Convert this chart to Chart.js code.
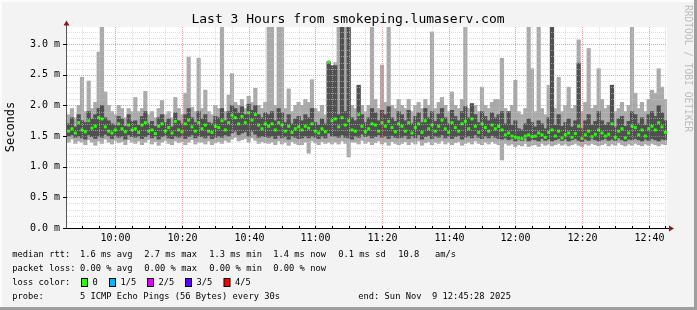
<!DOCTYPE html>
<html>
<head>
<meta charset="utf-8">
<script src="https://cdn.jsdelivr.net/npm/chart.js@4.4.1/dist/chart.umd.min.js"></script>
<style>
  html, body { margin: 0; padding: 0; background: #f3f3f3; }
  canvas { display: block; }
</style>
</head>
<body>
<canvas id="smokeChart" width="697" height="310"></canvas>
<script>
// time axis in minutes since midnight, one bin per minute
const startMin = 585.47;   // 09:45:28
const endMin = 765.47;     // 12:45:28
const binMinutes = 1;

// smoke: outer range (min..max ping), inner range (2nd..4th ping), median - all in ms
const rttMax = [
  1.85,1.95,1.80,2.00,2.46,1.90,2.40,1.95,2.05,2.87,3.30,2.22,2.00,1.90,1.85,2.00,1.95,1.80,1.95,1.90,
  2.13,1.90,1.95,2.23,1.85,1.90,1.80,1.95,2.08,1.85,1.90,1.80,2.13,1.95,1.85,2.20,2.79,1.97,1.90,2.77,
  1.95,2.25,1.90,1.85,2.00,1.95,3.30,1.90,2.17,2.52,2.05,2.00,2.10,1.95,2.15,2.05,2.28,2.00,1.95,2.05,
  3.30,3.30,2.00,3.30,3.30,1.95,2.27,1.90,2.00,2.05,2.00,2.10,2.05,2.42,1.95,1.90,2.00,1.85,2.71,2.65,
  2.70,3.30,3.30,3.30,3.30,2.00,1.95,2.33,2.00,1.90,2.00,3.30,2.10,1.95,2.66,2.05,3.30,2.00,1.95,2.10,
  2.00,1.95,2.10,1.90,2.00,2.05,1.95,2.10,2.00,3.20,1.95,2.05,2.13,2.00,1.90,2.22,2.00,1.95,2.10,3.30,
  1.95,2.03,2.00,1.90,2.30,2.00,1.95,2.05,2.10,2.10,2.77,1.95,1.90,2.00,2.41,1.90,1.85,1.95,3.30,2.60,
  1.90,3.30,1.95,1.85,2.33,3.30,1.95,2.46,1.90,2.00,2.30,1.95,2.00,3.07,1.90,2.05,2.93,1.95,2.00,2.60,
  2.10,1.95,2.00,2.33,1.90,1.95,2.05,1.90,2.00,3.30,2.20,1.95,2.05,1.90,2.10,2.25,2.20,2.60,2.30,2.10
];
const rttMin = [
  1.40,1.45,1.38,1.42,1.40,1.36,1.44,1.40,1.35,1.42,1.38,1.45,1.40,1.37,1.43,1.39,1.41,1.36,1.44,1.40,
  1.38,1.42,1.36,1.40,1.44,1.37,1.41,1.35,1.40,1.43,1.38,1.36,1.42,1.39,1.41,1.36,1.40,1.44,1.37,1.40,
  1.40,1.37,1.42,1.36,1.39,1.41,1.38,1.43,1.40,1.45,1.48,1.42,1.44,1.46,1.40,1.47,1.43,1.38,1.41,1.39,
  1.38,1.40,1.36,1.42,1.37,1.40,1.35,1.41,1.38,1.36,1.36,1.40,1.22,1.42,1.39,1.36,1.41,1.38,1.40,1.37,
  1.40,1.37,1.42,1.38,1.16,1.40,1.40,1.37,1.43,1.38,1.41,1.36,1.39,1.42,1.37,1.40,1.35,1.41,1.38,1.36,
  1.38,1.41,1.36,1.40,1.37,1.42,1.35,1.39,1.41,1.36,1.40,1.38,1.42,1.37,1.40,1.36,1.39,1.41,1.35,1.38,
  1.40,1.37,1.42,1.38,1.36,1.40,1.37,1.41,1.38,1.36,1.11,1.38,1.35,1.37,1.33,1.36,1.34,1.38,1.33,1.35,
  1.36,1.33,1.38,1.35,1.37,1.34,1.36,1.38,1.35,1.37,1.34,1.36,1.38,1.35,1.33,1.37,1.35,1.38,1.36,1.34,
  1.36,1.38,1.34,1.37,1.35,1.39,1.36,1.34,1.37,1.35,1.38,1.36,1.34,1.37,1.35,1.38,1.36,1.34,1.37,1.36
];
const rttLow = [
  1.50,1.52,1.48,1.50,1.47,1.45,1.52,1.49,1.46,1.50,1.48,1.53,1.50,1.46,1.51,1.48,1.50,1.45,1.52,1.49,
  1.48,1.50,1.46,1.49,1.52,1.47,1.50,1.45,1.49,1.51,1.47,1.46,1.50,1.48,1.50,1.46,1.49,1.52,1.47,1.50,
  1.49,1.47,1.51,1.46,1.48,1.50,1.48,1.52,1.50,1.55,1.58,1.52,1.55,1.57,1.50,1.58,1.53,1.48,1.50,1.49,
  1.48,1.50,1.46,1.51,1.47,1.49,1.45,1.50,1.48,1.46,1.47,1.50,1.47,1.50,1.48,1.46,1.50,1.47,1.55,1.50,
  1.50,1.48,1.52,1.48,1.47,1.45,1.50,1.48,1.53,1.49,1.51,1.47,1.49,1.52,1.48,1.50,1.46,1.51,1.48,1.47,
  1.48,1.51,1.46,1.50,1.47,1.52,1.45,1.49,1.51,1.46,1.50,1.48,1.52,1.47,1.50,1.46,1.49,1.51,1.45,1.48,
  1.50,1.47,1.52,1.48,1.46,1.50,1.47,1.51,1.48,1.46,1.45,1.47,1.44,1.46,1.42,1.45,1.43,1.47,1.42,1.44,
  1.44,1.42,1.46,1.43,1.45,1.42,1.44,1.46,1.43,1.45,1.42,1.44,1.46,1.43,1.41,1.45,1.43,1.46,1.44,1.42,
  1.44,1.46,1.43,1.45,1.43,1.47,1.44,1.42,1.45,1.44,1.46,1.44,1.42,1.45,1.43,1.46,1.44,1.42,1.45,1.44
];
const rttHigh = [
  1.70,1.80,1.65,1.85,1.75,1.72,1.90,1.78,1.85,1.95,2.00,1.80,1.75,1.70,1.68,1.82,1.78,1.66,1.85,1.74,
  1.75,1.68,1.82,1.90,1.70,1.74,1.66,1.80,1.85,1.72,1.78,1.65,1.88,1.75,1.70,1.85,1.95,1.80,1.72,1.90,
  1.78,1.85,1.72,1.70,1.82,1.80,1.95,1.75,1.90,2.00,1.95,1.88,1.98,1.85,2.02,1.92,2.00,1.85,1.80,1.88,
  1.85,1.90,1.75,1.95,1.88,1.72,1.85,1.70,1.78,1.82,1.75,1.85,1.80,1.95,1.72,1.68,1.78,1.70,2.71,2.65,
  2.65,1.85,3.30,1.90,3.30,1.80,1.75,2.33,1.85,1.72,1.80,1.95,1.88,1.75,1.92,1.85,1.98,1.80,1.74,1.90,
  1.85,1.75,1.92,1.70,1.82,1.88,1.72,1.95,1.80,1.90,1.74,1.86,1.95,1.80,1.70,1.92,1.82,1.75,1.90,1.98,
  1.80,2.03,1.85,1.72,1.90,1.82,1.75,1.88,1.80,1.85,1.90,1.70,1.90,1.68,1.75,1.62,1.60,1.70,1.78,1.72,
  1.65,1.75,1.70,1.62,1.80,3.30,1.68,1.85,1.66,1.72,1.78,1.65,1.75,2.69,1.62,1.75,1.85,1.68,1.74,1.90,
  1.75,1.68,1.72,2.33,1.65,1.78,1.82,1.66,1.74,1.90,1.85,1.70,1.80,1.68,1.85,1.90,1.82,2.00,1.88,1.75
];
const rttMedian = [
  1.58,1.62,1.55,1.72,1.60,1.57,1.75,1.63,1.66,1.80,1.78,1.65,1.58,1.55,1.60,1.70,1.62,1.57,1.68,1.60,
  1.62,1.56,1.68,1.72,1.58,1.60,1.54,1.66,1.70,1.58,1.64,1.55,1.74,1.60,1.57,1.70,1.76,1.65,1.58,1.72,
  1.62,1.68,1.58,1.56,1.66,1.64,1.75,1.60,1.72,1.84,1.80,1.70,1.82,1.72,1.88,1.76,1.85,1.68,1.62,1.70,
  1.66,1.70,1.60,1.72,1.68,1.58,1.66,1.56,1.62,1.65,1.60,1.66,1.63,1.70,1.58,1.55,1.62,1.57,2.71,1.75,
  1.78,1.65,1.80,1.68,1.75,1.60,1.58,1.85,1.66,1.57,1.62,1.70,1.68,1.58,1.72,1.66,1.74,1.64,1.57,1.70,
  1.66,1.58,1.72,1.55,1.64,1.70,1.56,1.75,1.62,1.68,1.58,1.66,1.76,1.62,1.56,1.72,1.64,1.58,1.70,1.74,
  1.62,1.78,1.66,1.56,1.70,1.64,1.58,1.68,1.62,1.66,1.60,1.52,1.55,1.50,1.48,1.47,1.46,1.50,1.52,1.49,
  1.50,1.55,1.52,1.48,1.56,1.60,1.50,1.58,1.47,1.52,1.55,1.48,1.54,1.66,1.46,1.52,1.58,1.49,1.53,1.60,
  1.55,1.50,1.53,1.70,1.48,1.58,1.62,1.47,1.55,1.66,1.64,1.52,1.60,1.50,1.62,1.66,1.60,1.72,1.65,1.56
];

const yMax = 3.28;
const yLabelStep = 0.5;
const xLabelEvery = 20;   // minutes

const rttStats = ['1.6 ms avg', '2.7 ms max', '1.3 ms min', '1.4 ms now', '0.1 ms sd', '10.8', 'am/s'];
const lossStats = ['0.00 % avg', '0.00 % max', '0.00 % min', '0.00 % now'];
const lossLabels = ['0', '1/5', '2/5', '3/5', '4/5'];
const lossColors = ['#26ff00', '#00b8ff', '#dd00ff', '#5e00ff', '#ff0000'];

const binTimes = rttMedian.map((_, i) => startMin + (i + 0.5) * binMinutes);

const MONO = '"DejaVu Sans Mono", monospace';

function isLabelTick(v) {
  const q = v / yLabelStep;
  return Math.abs(q - Math.round(q)) < 1e-6;
}
function hhmm(m) {
  const h = Math.floor(m / 60), mm = Math.round(m % 60);
  return String(h).padStart(2, '0') + ':' + String(mm).padStart(2, '0');
}

const background = {
  id: 'background',
  beforeDraw(chart) {
    const { ctx, chartArea: a } = chart;
    ctx.save();
    ctx.fillStyle = '#f3f3f3';
    ctx.fillRect(0, 0, 697, 310);
    ctx.fillStyle = '#fcfcfc';
    ctx.fillRect(0, 0, 697, 2);
    ctx.fillRect(0, 0, 2, 310);
    ctx.fillStyle = '#9e9e9e';
    ctx.fillRect(0, 307, 697, 3);
    ctx.fillRect(694, 0, 3, 310);
    ctx.fillStyle = '#ffffff';
    ctx.fillRect(a.left, a.top, a.right - a.left, a.bottom - a.top);
    ctx.restore();
  }
};

// rrdtool draws its grid over the graph
const gridOnTop = {
  id: 'gridOnTop',
  afterDatasetsDraw(chart) {
    const { ctx, chartArea: a, scales: { x, y } } = chart;
    ctx.save();
    ctx.lineWidth = 1;
    ctx.setLineDash([1, 1]);
    y.ticks.forEach(t => {
      if (t.value <= 0) return;
      const py = Math.round(y.getPixelForValue(t.value)) + 0.5;
      ctx.strokeStyle = isLabelTick(t.value) ? 'rgba(240,120,120,0.7)' : 'rgba(200,200,200,0.6)';
      ctx.beginPath(); ctx.moveTo(a.left, py); ctx.lineTo(a.right, py); ctx.stroke();
    });
    x.ticks.forEach(t => {
      const px = Math.round(x.getPixelForValue(t.value)) + 0.5;
      ctx.strokeStyle = t.value % xLabelEvery === 0 ? 'rgba(240,120,120,0.7)' : 'rgba(200,200,200,0.6)';
      ctx.beginPath(); ctx.moveTo(px, a.top); ctx.lineTo(px, a.bottom); ctx.stroke();
    });
    ctx.restore();
  },
  afterDraw(chart) {
    const { ctx, chartArea: a, scales: { x, y } } = chart;
    ctx.save();
    // axes
    ctx.strokeStyle = '#555';
    ctx.lineWidth = 1;
    ctx.beginPath(); ctx.moveTo(a.left - 0.5, a.bottom); ctx.lineTo(a.left - 0.5, 23); ctx.stroke();
    ctx.strokeStyle = '#000';
    ctx.beginPath(); ctx.moveTo(a.left - 3, a.bottom + 0.5); ctx.lineTo(a.right + 3, a.bottom + 0.5); ctx.stroke();
    y.ticks.forEach(t => {
      if (!isLabelTick(t.value)) return;
      const py = Math.round(y.getPixelForValue(t.value)) + 0.5;
      ctx.beginPath(); ctx.moveTo(a.left - 4, py); ctx.lineTo(a.left, py); ctx.stroke();
    });
    ctx.fillStyle = '#000';
    ctx.font = '10px ' + MONO;
    ctx.textAlign = 'center';
    ctx.textBaseline = 'middle';
    x.ticks.forEach(t => {
      const px = Math.round(x.getPixelForValue(t.value)) + 0.5;
      ctx.beginPath(); ctx.moveTo(px, a.bottom - 2); ctx.lineTo(px, a.bottom + 1); ctx.stroke();
      if (t.value % xLabelEvery === 0) ctx.fillText(hhmm(t.value), px, 238.5);
    });
    ctx.fillStyle = '#8b1a1a';
    ctx.beginPath(); ctx.moveTo(a.left - 0.5, 20.5); ctx.lineTo(a.left - 3.5, 25.5); ctx.lineTo(a.left + 2.5, 25.5); ctx.closePath(); ctx.fill();
    ctx.beginPath(); ctx.moveTo(a.right + 7, a.bottom + 0.5); ctx.lineTo(a.right + 2, a.bottom - 2.5); ctx.lineTo(a.right + 2, a.bottom + 3.5); ctx.closePath(); ctx.fill();

    // title
    ctx.fillStyle = '#000';
    ctx.font = '13px ' + MONO;
    ctx.fillText('Last 3 Hours from smokeping.lumaserv.com', 348, 19.5);

    // y title
    ctx.save();
    ctx.translate(11, 127);
    ctx.rotate(-Math.PI / 2);
    ctx.font = '12px ' + MONO;
    ctx.fillText('Seconds', 0, 0);
    ctx.restore();

    // watermark
    ctx.save();
    ctx.translate(687, 5);
    ctx.rotate(Math.PI / 2);
    ctx.textAlign = 'left';
    ctx.fillStyle = '#bcbcbc';
    ctx.font = '9.6px ' + MONO;
    ctx.fillText('RRDTOOL / TOBI OETIKER', 0, 0);
    ctx.restore();

    // legend
    ctx.textAlign = 'left';
    ctx.fillStyle = '#000';
    ctx.font = '9.5px ' + MONO;
    const txt = (s, tx, ty) => {
      ctx.save(); ctx.translate(tx, ty); ctx.scale(0.92, 1); ctx.fillText(s, 0, 0); ctx.restore();
    };
    const cols = [80, 144.3, 209.3, 273.3, 338.3, 398.3, 435];
    txt('median rtt:', 12.3, 255);
    rttStats.forEach((s, i) => txt(s, cols[i], 255));
    txt('packet loss:', 12.3, 268.5);
    lossStats.forEach((s, i) => txt(s, cols[i], 268.5));
    txt('loss color:', 12.3, 282.5);
    const boxX = [81.5, 109.5, 147.5, 185.5, 224];
    lossLabels.forEach((s, i) => {
      ctx.fillStyle = lossColors[i];
      ctx.fillRect(boxX[i], 278.5, 6, 8);
      ctx.strokeStyle = '#000';
      ctx.strokeRect(boxX[i], 278.5, 6, 8);
      ctx.fillStyle = '#000';
      txt(s, boxX[i] + 11, 282.5);
    });
    txt('probe:', 12.3, 296.7);
    txt('5 ICMP Echo Pings (56 Bytes) every 30s', 80, 296.7);
    txt('end: Sun Nov  9 12:45:28 2025', 358.3, 296.7);
    ctx.restore();
  }
};

const ctx = document.getElementById('smokeChart').getContext('2d');
new Chart(ctx, {
  type: 'bar',
  data: {
    datasets: [
      {
        type: 'line',
        label: 'median',
        data: binTimes.map((t, i) => ({ x: t, y: rttMedian[i] })),
        showLine: false,
        pointStyle: 'rect',
        pointRadius: 2.1,
        pointBorderWidth: 0,
        pointBackgroundColor: lossColors[0],
        order: 0
      },
      {
        label: 'inner',
        data: binTimes.map((t, i) => ({ x: t, y: [rttLow[i], rttHigh[i]] })),
        backgroundColor: '#505050',
        borderWidth: 0,
        grouped: false,
        barThickness: 3.5,
        order: 1
      },
      {
        label: 'outer',
        data: binTimes.map((t, i) => ({ x: t, y: [rttMin[i], rttMax[i]] })),
        backgroundColor: '#aaaaaa',
        borderWidth: 0,
        grouped: false,
        barThickness: 3.5,
        order: 2
      }
    ]
  },
  options: {
    responsive: false,
    animation: false,
    layout: { padding: { left: 0, right: 30, top: 27, bottom: 0 } },
    plugins: {
      legend: { display: false },
      tooltip: { enabled: false },
      title: { display: false }
    },
    scales: {
      x: {
        type: 'linear',
        offset: false,
        min: startMin,
        max: endMin,
        grid: { display: false, drawTicks: false },
        border: { display: false },
        afterBuildTicks: s => {
          const t = [];
          for (let m = 590; m <= endMin; m += 5) t.push({ value: m });
          s.ticks = t;
        },
        afterFit: s => { s.height = 82; },
        ticks: { display: false, autoSkip: false, maxRotation: 0 }
      },
      y: {
        min: 0,
        max: yMax,
        grid: { display: false, drawTicks: false },
        border: { display: false },
        afterBuildTicks: s => {
          const t = [];
          for (let k = 0; k <= 32; k++) t.push({ value: k / 10 });
          s.ticks = t;
        },
        afterFit: s => { s.width = 67; },
        ticks: {
          autoSkip: false,
          padding: 7,
          color: '#000',
          font: { family: MONO, size: 10 },
          callback: v => (isLabelTick(v) ? v.toFixed(1) + ' m' : '')
        }
      }
    }
  },
  plugins: [background, gridOnTop]
});
</script>
</body>
</html>
